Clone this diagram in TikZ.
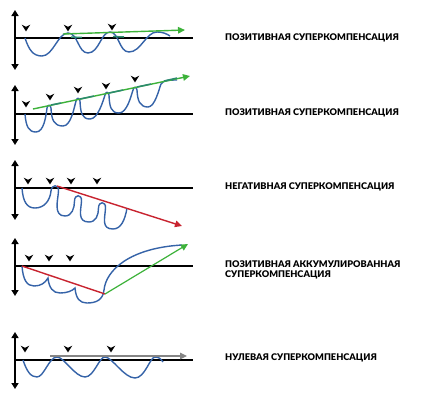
\documentclass[tikz,border=0pt]{standalone}
\usepackage{fontspec}
\setmainfont{Lato}[BoldFont={Lato Black}]
\usetikzlibrary{arrows.meta}
\definecolor{wblue}{HTML}{3563A8}
\definecolor{wgreen}{HTML}{3DB23A}
\definecolor{wred}{HTML}{C8232F}
\definecolor{wteal}{HTML}{2C8A6E}
\definecolor{wgray}{HTML}{858585}
\tikzset{
  axisline/.style={line width=1.5pt, black, {Triangle[length=6pt,width=7pt]}-{Triangle[length=6pt,width=7pt]}},
  baseline/.style={line width=1.6pt, black},
  wave/.style={line width=1.4pt, wblue},
  trend/.style={line width=1.4pt, -{Triangle[length=7pt,width=6.5pt]}},
  tail/.style={line width=1.5pt, wteal},
  lbl/.style={anchor=west, inner sep=0pt, font=\bfseries\fontsize{9.2}{11}\selectfont, align=left},
  mk/.pic={\fill[black] (-4.3,-3.4) -- (0,3.4) -- (4.3,-3.4) -- (0,-1.2) -- cycle;}
}
\begin{document}
\begin{tikzpicture}[x=1pt,y=-1pt]
\useasboundingbox[fill=white] (0,0) rectangle (434,408);

% ---------- panel 1
\draw[axisline] (15,10) -- (15,70);
\draw[baseline] (15,38) -- (193,38);
\draw[wave] (25,38) .. controls (29,50) and (33,56) .. (42,56)
  .. controls (53,56) and (58,33) .. (68,33)
  .. controls (78,33) and (78,53) .. (88,53)
  .. controls (99,53) and (101,32) .. (110,32)
  .. controls (119,32) and (119,52) .. (129,52)
  .. controls (141,52) and (146,32) .. (157,32)
  .. controls (163,32) and (167,34) .. (170,36);
\draw[trend, wgreen] (63,34) -- (185,30);
\draw[tail] (71,37) -- (82,37.5);
\draw[tail] (113,36.5) -- (124,37);
\pic at (26,28) {mk};
\pic at (68,28) {mk};
\pic at (112,27) {mk};
\node[lbl] (t1) at (225,38) {ПОЗИТИВНАЯ СУПЕРКОМПЕНСАЦИЯ};

% ---------- panel 2
\draw[axisline] (15,85) -- (15,145);
\draw[baseline] (15,114) -- (193,114);
\draw[wave] (25,114) .. controls (26,127) and (29,132) .. (36,132)
  .. controls (44,132) and (46,116) .. (47,108)
  .. controls (47.5,104.5) and (50.5,104.5) .. (51,108)
  .. controls (51.5,120) and (54,126) .. (63,126)
  .. controls (71,126) and (74,108) .. (76,101)
  .. controls (76.5,97.5) and (79.5,97.5) .. (80,101)
  .. controls (80.5,113) and (82,119) .. (90,119)
  .. controls (98,119) and (103,101) .. (105,95)
  .. controls (105.5,91.5) and (108.5,91.5) .. (109,95)
  .. controls (109.5,107) and (111,113) .. (119,113)
  .. controls (127,113) and (131,96) .. (133,90)
  .. controls (133.5,86.5) and (136.5,86.5) .. (137,90)
  .. controls (137.5,101) and (140,107) .. (148,107)
  .. controls (155,107) and (159,89) .. (161,84)
  .. controls (163,80) and (170,80) .. (177,80);
\draw[trend, wgreen] (33,109) -- (190,76);
\draw[tail] (51,105) -- (61,103);
\draw[tail] (80,99) -- (94,96);
\draw[tail] (109,93) -- (123,90);
\draw[tail] (137,87) -- (151,84);
\draw[tail] (164,81) -- (177,78);
\pic at (26,104) {mk};
\pic at (50,97) {mk};
\pic at (78,90) {mk};
\pic at (106,86) {mk};
\pic at (135,79) {mk};
\node[lbl] (t2) at (225,113) {ПОЗИТИВНАЯ СУПЕРКОМПЕНСАЦИЯ};

% ---------- panel 3
\draw[axisline] (15,160) -- (15,220);
\draw[baseline] (15,188) -- (193,188);
\draw[wave] (22,188) .. controls (23,202) and (27,208) .. (35,208)
  .. controls (44,208) and (50,201) .. (51,191)
  .. controls (51.5,184) and (59,184) .. (58.5,191)
  .. controls (58,200) and (53,216) .. (65,216)
  .. controls (72,216) and (74.5,208) .. (74.5,201)
  .. controls (74.5,194) and (82,194) .. (81.5,201)
  .. controls (81,210) and (77,222) .. (89,222)
  .. controls (96,222) and (98.5,215) .. (98.5,208)
  .. controls (98.5,201) and (106,201) .. (105.5,208)
  .. controls (105,218) and (101,229) .. (113,229)
  .. controls (121,229) and (125,220) .. (127,208);
\draw[trend, wred] (57,186) -- (182,226);
\pic at (28,181) {mk};
\pic at (50,181) {mk};
\pic at (71,181) {mk};
\pic at (97,181) {mk};
\node[lbl] (t3) at (225,187) {НЕГАТИВНАЯ СУПЕРКОМПЕНСАЦИЯ};

% ---------- panel 4
\draw[axisline] (15,238) -- (15,296);
\draw[baseline] (15,266) -- (193,266);
\draw[wave] (22,266) .. controls (23,280) and (27,286) .. (34,286)
  .. controls (41,286) and (45,283) .. (48,278)
  .. controls (49,288) and (53,293) .. (60,293)
  .. controls (67,293) and (72,291) .. (75,288)
  .. controls (76,299) and (80,303) .. (87,303)
  .. controls (96,303) and (103,300) .. (104,290)
  .. controls (106,270) and (130,248) .. (182,245);
\draw[line width=1.4pt, wred] (22,266) -- (105,294);
\draw[trend, wgreen, line width=1.2pt] (105,294) -- (188,244);
\pic at (29,258) {mk};
\pic at (49,258) {mk};
\pic at (70,258) {mk};
\node[lbl] (t4) at (225,269.5) {ПОЗИТИВНАЯ АККУМУЛИРОВАННАЯ\\[-1.2pt]СУПЕРКОМПЕНСАЦИЯ};

% ---------- panel 5
\draw[axisline] (15,332) -- (15,389);
\draw[baseline] (15,360) -- (193,360);
\draw[wave] (23,360) .. controls (27,372) and (31,377) .. (37,377)
  .. controls (44,377) and (49,357) .. (57,357)
  .. controls (64,357) and (75,377) .. (85,377)
  .. controls (94,377) and (99,357) .. (105,357)
  .. controls (112,357) and (124,378) .. (135,378)
  .. controls (145,378) and (150,357) .. (155,357)
  .. controls (159,357) and (161,359) .. (163,362);
\draw[trend, wgray, line width=1.2pt] (50,356) -- (187,356);
\pic at (25,349) {mk};
\pic at (68,349) {mk};
\pic at (111,349) {mk};
\node[lbl] (t5) at (225,358) {НУЛЕВАЯ СУПЕРКОМПЕНСАЦИЯ};
\end{tikzpicture}
\end{document}
